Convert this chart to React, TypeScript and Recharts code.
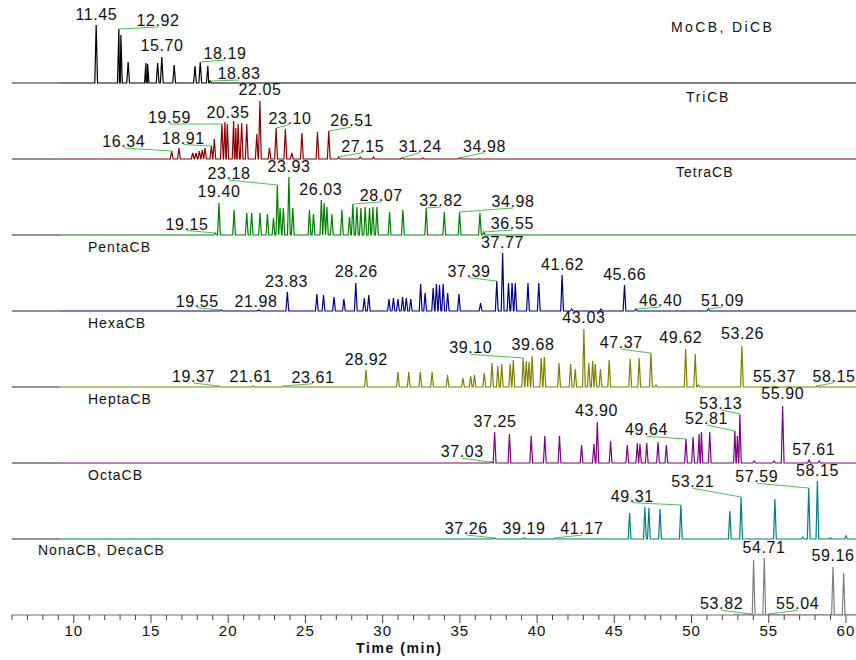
import React from 'react';
import { ComposedChart, Line, XAxis, YAxis, ReferenceLine, ReferenceDot } from 'recharts';

type Peak = [number, number]; // retention time (min), intensity
type Tag = [number, number, number]; // peak time, label centre time, label level

const moDiPeaks: Peak[] = [
  [11.45, 58], [12.92, 54], [13.05, 48], [13.52, 21], [14.67, 20], [14.78, 19], [15.43, 20],
  [15.70, 26], [16.50, 18], [17.85, 17], [18.19, 21], [18.68, 17], [18.83, 2],
];
const moDiTags: Tag[] = [
  [11.45, 11.46, 62], [12.92, 15.45, 56], [15.70, 15.71, 31], [18.19, 19.79, 23], [18.83, 20.7, 3],
];

const triPeaks: Peak[] = [
  [16.34, 8], [16.81, 11], [17.70, 6], [17.91, 6], [18.13, 8], [18.32, 9], [18.50, 11], [18.91, 13],
  [19.10, 20], [19.59, 35], [19.79, 37], [19.94, 35], [20.35, 38], [20.49, 31], [20.64, 35], [20.87, 36],
  [21.20, 35], [21.85, 25], [22.05, 58], [22.67, 11], [23.10, 31], [23.70, 30], [24.12, 6], [24.77, 26],
  [25.78, 27], [26.51, 28], [27.15, 2], [28.55, 2], [29.40, 2], [31.24, 1], [32.60, 1], [34.98, 1],
];
const triTags: Tag[] = [
  [16.34, 13.24, 11], [18.91, 17.09, 14.5], [19.59, 16.2, 35], [20.35, 19.99, 40.5], [22.05, 22.06, 63],
  [23.10, 24.0, 34.5], [26.51, 28.0, 32], [27.15, 28.71, 6.5], [31.24, 32.44, 6.5], [34.98, 36.6, 6.5],
];

const tetraPeaks: Peak[] = [
  [19.15, 2], [19.40, 32], [20.38, 25], [21.20, 22], [21.52, 22], [22.06, 22], [22.54, 21], [22.93, 17],
  [23.18, 50], [23.36, 27], [23.57, 27], [23.93, 58], [24.18, 27], [25.26, 25], [25.52, 21], [26.03, 35],
  [26.21, 32], [26.39, 28], [26.71, 21], [27.36, 25], [27.85, 18], [28.07, 31], [28.33, 28], [28.59, 27],
  [28.87, 28], [29.15, 27], [29.37, 28], [29.63, 28], [30.45, 23], [31.31, 25], [32.82, 27], [33.99, 23],
  [34.98, 23], [36.30, 22], [36.55, 3],
];
const tetraTags: Tag[] = [
  [19.15, 17.33, 4.5], [19.40, 19.41, 37], [23.18, 20.05, 55], [23.93, 23.94, 62], [26.03, 25.99, 39],
  [28.07, 29.91, 33], [32.82, 33.77, 28], [34.98, 38.44, 27], [36.55, 38.4, 5],
];

const pentaPeaks: Peak[] = [
  [19.55, 1], [21.98, 1], [23.83, 19], [25.74, 17], [26.17, 16], [26.85, 14], [27.49, 12], [28.26, 28],
  [28.81, 13], [29.10, 16], [30.41, 12], [30.70, 13], [30.99, 12], [31.29, 14], [31.53, 13], [31.82, 12],
  [32.46, 27], [32.75, 18], [33.27, 23], [33.48, 27], [33.68, 26], [33.92, 27], [34.21, 18], [34.94, 17],
  [36.34, 8], [37.39, 30], [37.77, 58], [38.15, 28], [38.38, 28], [38.59, 28], [39.41, 28], [40.11, 28],
  [41.62, 36], [42.24, 2], [44.14, 2], [45.66, 26], [46.40, 2], [51.09, 2],
];
const pentaTags: Tag[] = [
  [19.55, 18.0, 3.3], [21.98, 21.8, 3.3], [23.83, 23.77, 22.7], [28.26, 28.29, 32.7], [37.39, 35.59, 33.3],
  [37.77, 37.76, 61.7], [41.62, 41.65, 40], [45.66, 45.67, 30], [46.40, 48.0, 4], [51.09, 52.0, 4],
];

const hexaPeaks: Peak[] = [
  [19.37, 1], [21.61, 1], [23.61, 1], [28.92, 17], [30.99, 15], [31.69, 15], [32.44, 15], [33.20, 15],
  [34.20, 12], [35.20, 9], [35.70, 11], [35.95, 12], [36.58, 14], [37.08, 24], [37.46, 21], [37.71, 23],
  [38.26, 23], [38.46, 27], [39.10, 29], [39.30, 26], [39.48, 25], [39.68, 31], [40.27, 29], [40.47, 30],
  [41.42, 24], [42.17, 23], [42.47, 18], [43.03, 58], [43.35, 24], [43.60, 26], [43.77, 23], [44.10, 18],
  [44.67, 27], [46.03, 28], [46.61, 29], [47.37, 34], [47.70, 2], [49.62, 38], [50.24, 33], [50.45, 2],
  [53.26, 41], [55.37, 1], [58.15, 1],
];
const hexaTags: Tag[] = [
  [19.37, 17.75, 4], [21.61, 21.48, 4], [23.61, 25.49, 3.3], [28.92, 28.94, 21], [39.10, 35.7, 32.7],
  [39.68, 39.74, 36], [43.03, 43.03, 62.7], [47.37, 45.45, 37.7], [49.62, 49.3, 42.7], [53.26, 53.3, 46.7],
  [55.37, 55.38, 4.3], [58.15, 59.22, 4.3],
];

const heptaPeaks: Peak[] = [
  [37.03, 1], [37.25, 31], [38.21, 29], [39.62, 27], [40.50, 27], [41.45, 27], [42.88, 18], [43.68, 19],
  [43.90, 41], [44.76, 22], [45.84, 18], [46.49, 20], [46.66, 19], [47.10, 20], [47.83, 21], [48.37, 18],
  [49.64, 24], [50.10, 26], [50.49, 29], [50.64, 31], [51.18, 31], [52.81, 32], [52.97, 27], [53.13, 49],
  [54.05, 2], [55.35, 2], [55.90, 57], [57.61, 3], [58.27, 2],
];
const heptaTags: Tag[] = [
  [37.03, 35.15, 4.7], [37.25, 37.28, 34.7], [43.90, 43.85, 45.7], [49.64, 47.08, 26.7], [52.81, 50.97, 38],
  [53.13, 51.89, 53.3], [55.90, 55.91, 63.3], [57.61, 57.91, 6.7],
];

const octaPeaks: Peak[] = [
  [37.26, 1], [39.19, 1], [41.17, 1], [45.99, 26], [46.98, 32], [47.24, 31], [47.96, 30], [49.31, 34],
  [52.48, 28], [53.21, 42], [55.40, 40], [57.20, 2], [57.59, 51], [58.15, 58], [59.00, 1], [60.00, 3],
];
const octaTags: Tag[] = [
  [37.26, 35.42, 4], [39.19, 39.16, 4], [41.17, 42.9, 4], [49.31, 46.16, 36.3], [53.21, 50.08, 50.7],
  [57.59, 54.23, 55.7], [58.15, 58.16, 62.3],
];

const nonaDecaPeaks: Peak[] = [
  [53.82, 1], [54.02, 55], [54.71, 57], [55.04, 1], [59.16, 48], [59.85, 42],
];
const nonaDecaTags: Tag[] = [
  [53.82, 51.95, 4.7], [54.71, 54.7, 61.3], [55.04, 56.87, 4.7], [59.16, 59.16, 53.3],
];

const majorTicks = [10, 15, 20, 25, 30, 35, 40, 45, 50, 55, 60];
const timeTicks = Array.from({ length: 55 }, (_, i) => 6 + i);

const panels = [
  { name: 'MoCB, DiCB', color: '#000000', start: 9.1, peaks: moDiPeaks, tags: moDiTags, tx: 671, ty: 32, ls: 2.4 },
  { name: 'TriCB', color: '#8b0000', start: 9.1, peaks: triPeaks, tags: triTags, tx: 686, ty: 102, ls: 1.8 },
  { name: 'TetraCB', color: '#008000', start: 9.1, peaks: tetraPeaks, tags: tetraTags, tx: 676, ty: 177, ls: 1 },
  { name: 'PentaCB', color: '#00008b', start: 9.1, peaks: pentaPeaks, tags: pentaTags, tx: 88, ty: 252, ls: 1 },
  { name: 'HexaCB', color: '#808000', start: 9.1, peaks: hexaPeaks, tags: hexaTags, tx: 88, ty: 328, ls: 1 },
  { name: 'HeptaCB', color: '#800080', start: 9.1, peaks: heptaPeaks, tags: heptaTags, tx: 88, ty: 404, ls: 1 },
  { name: 'OctaCB', color: '#008080', start: 9.1, peaks: octaPeaks, tags: octaTags, tx: 88, ty: 480, ls: 1 },
  { name: 'NonaCB, DecaCB', color: '#808080', start: 52.7, peaks: nonaDecaPeaks, tags: nonaDecaTags, tx: 38, ty: 555, ls: 1 },
];

const W = 856;
const H = 660;
const BAND = 76;
const T_MIN = 6;
const T_MAX = 60.65;
const SPIKE = 0.09;
const FONT = '"Liberation Sans", Arial, sans-serif';
const LEADER = '#55bb55';
const RULE = '#6e6e6e';

const buildTrace = (peaks: Peak[], start: number) => {
  const pts = [{ t: start, v: 0 }, { t: T_MAX, v: 0 }];
  peaks.forEach(([t, h]) => {
    pts.push({ t: t - SPIKE, v: 0 }, { t, v: h }, { t: t + SPIKE, v: 0 });
  });
  return pts.sort((a, b) => a.t - b.t);
};

// grey rule from the axis start up to where the recorded trace begins
const buildLeadIn = (start: number) => [
  { t: T_MIN, w: 0 },
  { t: start, w: 0 },
];

const peakHeight = (peaks: Peak[], t: number) => {
  const p = peaks.find((pk) => Math.abs(pk[0] - t) < 0.01);
  return p ? p[1] : 0;
};

const TimeTick = (props: any) => {
  const { x, y, payload } = props;
  const major = majorTicks.includes(payload.value);
  return (
    <g>
      <line x1={x} x2={x} y1={y} y2={y + (major ? 8 : 5)} stroke="#444" />
      {major && (
        <text x={x} y={y + 21} textAnchor="middle" fontSize={15} fontFamily={FONT} fill="#111" letterSpacing={1}>
          {payload.value}
        </text>
      )}
    </g>
  );
};

export default function App() {
  return (
    <div style={{ position: 'relative', width: W, height: H, background: '#fff' }}>
      <style>{'body{margin:0}'}</style>
      <ComposedChart width={W} height={H} margin={{ top: 7, right: 0, bottom: 0, left: 12 }}>
        <XAxis
          type="number"
          dataKey="t"
          domain={[T_MIN, T_MAX]}
          allowDataOverflow
          ticks={timeTicks}
          interval={0}
          tick={<TimeTick />}
          tickSize={0}
          tickMargin={0}
          tickLine={false}
          axisLine={{ stroke: RULE }}
          height={45}
        />
        {panels.map((p, i) => (
          <YAxis
            key={`y${i}`}
            yAxisId={i}
            type="number"
            hide
            allowDataOverflow
            domain={[-(7 - i) * BAND, (i + 1) * BAND]}
          />
        ))}
        {panels.slice(0, 7).map((p, i) => (
          <Line
            key={`lead${i}`}
            yAxisId={i}
            data={buildLeadIn(p.start)}
            dataKey="w"
            type="linear"
            stroke={RULE}
            strokeWidth={1.5}
            dot={false}
            activeDot={false}
            isAnimationActive={false}
          />
        ))}
        {panels.map((p, i) => (
          <Line
            key={`trace${i}`}
            yAxisId={i}
            data={buildTrace(p.peaks, p.start)}
            dataKey="v"
            type="linear"
            stroke={p.color}
            strokeWidth={1.2}
            dot={false}
            activeDot={false}
            isAnimationActive={false}
          />
        ))}
        {panels.map((p, i) =>
          p.tags
            .filter(([t, lt]) => Math.abs(lt - t) > 0.45)
            .map(([t, lt, lv]) => (
              <ReferenceLine
                key={`g${i}-${t}`}
                yAxisId={i}
                segment={[{ x: lt, y: lv }, { x: t, y: peakHeight(p.peaks, t) }]}
                stroke={LEADER}
                strokeWidth={1}
                ifOverflow="visible"
              />
            ))
        )}
        {panels.map((p, i) =>
          p.tags.map(([t, lt, lv]) => (
            <ReferenceDot
              key={`t${i}-${t}`}
              yAxisId={i}
              x={lt}
              y={lv}
              r={1}
              ifOverflow="visible"
              shape={(s: any) => (
                <text x={s.cx} y={s.cy - 1} textAnchor="middle" fontSize={16} fontFamily={FONT} fill="#111" letterSpacing={0.6}>
                  {t.toFixed(2)}
                </text>
              )}
            />
          ))
        )}
      </ComposedChart>
      <svg width={W} height={H} style={{ position: 'absolute', left: 0, top: 0, pointerEvents: 'none' }}>
        {panels.map((p) => (
          <text key={p.name} x={p.tx} y={p.ty} fontSize={14} fontFamily={FONT} fill="#111" letterSpacing={p.ls}>
            {p.name}
          </text>
        ))}
        <text x={356} y={653} fontSize={14} fontWeight="bold" fontFamily={FONT} fill="#111" letterSpacing={1.6}>
          Time (min)
        </text>
      </svg>
    </div>
  );
}
